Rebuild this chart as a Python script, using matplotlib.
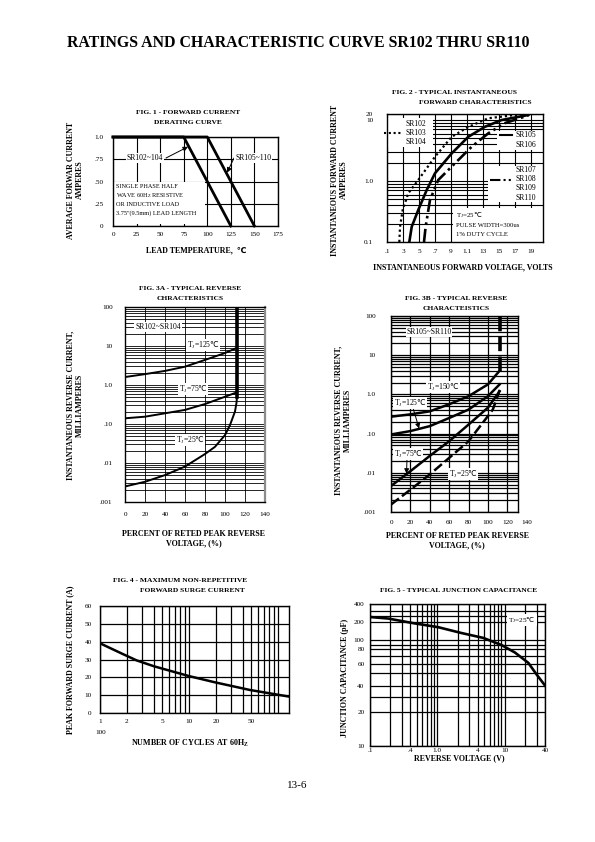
import numpy as np
import matplotlib
matplotlib.use('Agg')
import matplotlib.pyplot as plt
from matplotlib.patches import Rectangle
from matplotlib.ticker import NullFormatter

plt.rcParams['font.family'] = ['Liberation Serif', 'DejaVu Sans']
plt.rcParams['mathtext.fontset'] = 'custom'
plt.rcParams['mathtext.rm'] = 'Liberation Serif'
plt.rcParams['mathtext.it'] = 'Liberation Serif:italic'
plt.rcParams['mathtext.bf'] = 'Liberation Serif:bold'
plt.rcParams['mathtext.sf'] = 'DejaVu Sans'

W, H = 595, 842

# ---- Fig.1 forward current derating
lead_temp_ticks = [0, 25, 50, 75, 100, 125, 150, 175]
derate_temp_102 = [0, 75, 125]
derate_amp_102 = [1.0, 1.0, 0.0]
derate_temp_105 = [0, 100, 150]
derate_amp_105 = [1.0, 1.0, 0.0]

# ---- Fig.2 forward characteristics
vf_ticks = [0.1, 0.3, 0.5, 0.7, 0.9, 1.1, 1.3, 1.5, 1.7, 1.9]
vf_ticklabels = ['.1', '3', '5', '.7', '9', '1.1', '13', '15', '17', '19']
vf_102 = [0.254, 0.263, 0.296, 0.366, 0.491, 0.70, 0.909, 1.116, 1.366, 1.70, 1.89]
if_102 = [0.1, 0.178, 0.335, 0.63, 1.04, 2.5, 5.3, 7.7, 12.2, 17.8, 20]
vf_105 = [0.379, 0.409, 0.491, 0.596, 0.70, 0.909, 1.116, 1.325, 1.534, 1.866]
if_105 = [0.1, 0.178, 0.335, 0.71, 1.34, 2.84, 5.3, 7.75, 10, 17.8]
vf_107 = [0.5625, 0.583, 0.6375, 0.741, 0.95, 1.159, 1.366, 1.575, 1.866]
if_107 = [0.1, 0.178, 0.49, 1.04, 1.95, 3.65, 6.05, 8.9, 16.9]

# ---- Fig.3A reverse characteristics SR102~SR104
pct_a = [0, 20, 40, 60, 80, 100, 112]
ir_a_125 = [1.6, 1.9, 2.3, 2.95, 4.4, 6.6, 9.0]
ir_a_75 = [0.14, 0.154, 0.188, 0.23, 0.325, 0.5, 0.65]
pct_a_25 = [0, 20, 40, 60, 80, 90, 100, 105, 110, 111.5, 112]
ir_a_25 = [0.0025, 0.0033, 0.0049, 0.0081, 0.017, 0.026, 0.052, 0.094, 0.21, 0.35, 0.5]
brk_pct_a = [112, 112]
brk_ir_a = [0.5, 100]

# ---- Fig.3B reverse characteristics SR105~SR110
pct_b = [0, 20, 40, 60, 80, 100, 112]
ir_b_150 = [0.27, 0.31, 0.37, 0.56, 0.9, 1.8, 4.0]
ir_b_125 = [0.095, 0.116, 0.155, 0.25, 0.41, 0.9, 1.8]
ir_b_75 = [0.0046, 0.011, 0.027, 0.064, 0.17, 0.46, 1.2]
pct_b_25 = [0, 20, 40, 60, 80, 100, 105, 110, 112]
ir_b_25 = [0.00155, 0.0037, 0.0091, 0.024, 0.064, 0.28, 0.41, 0.9, 1.3]
brk_pct_b = [112, 112]
brk_ir_b = [4.0, 100]

# ---- Fig.4 surge current
cycles = [1, 1.78, 2.58, 4.04, 10, 19.6, 48.5, 133]
surge = [39.1, 33.2, 29.5, 26.2, 20.7, 17.2, 12.9, 9.2]

# ---- Fig.5 junction capacitance
vr = [0.1, 0.187, 0.44, 1.04, 2.3, 4.85, 9.08, 14.3, 22.6, 30, 40]
cj = [241, 227, 190, 163, 131, 109, 88.6, 74.9, 60.8, 49, 40]


fig = plt.figure(figsize=(W / 100, H / 100), dpi=100)


def rect(p):
    l, t, r, b = p
    return [l / W, 1 - b / H, (r - l) / W, (b - t) / H]


def put(x, y, s, size=5.8, weight='bold', ha='center', va='center', **kw):
    return fig.text(x / W, 1 - y / H, s, fontsize=size, fontweight=weight,
                    ha=ha, va=va, **kw)


def tag(x, y, s, size=5.5, ha='center'):
    """label with white background sitting on the grid"""
    return put(x, y, s, size=size, weight='normal', ha=ha,
               bbox=dict(fc='white', ec='none', pad=0.6))


def tj(temp):
    return 'T$_\\mathregular{J}$=' + temp + '$\\mathsf{\u2103}$'


def to_ax(p, x, y):
    l, t, r, b = p
    return (x - l) / (r - l), (b - y) / (b - t)


def white(ax, p, l, t, r, b):
    x0, y0 = to_ax(p, l, b)
    x1, y1 = to_ax(p, r, t)
    ax.add_patch(Rectangle((x0, y0), x1 - x0, y1 - y0, transform=ax.transAxes,
                           fc='white', ec='none', zorder=1.8, clip_on=False))


def style(ax, xpad, ypad, glw=0.8):
    ax.tick_params(which='both', length=0, labelsize=5.2)
    ax.tick_params(axis='x', pad=xpad)
    ax.tick_params(axis='y', pad=ypad)
    for sp in ax.spines.values():
        sp.set_linewidth(1.0)
    ax.grid(which='both', color='k', lw=glw)
    ax.yaxis.set_minor_formatter(NullFormatter())
    ax.xaxis.set_minor_formatter(NullFormatter())


def log_interp_scale(vals, fracs):
    lv = np.log10(vals)
    f = np.asarray(fracs, float)
    s0 = (f[1] - f[0]) / (lv[1] - lv[0])
    s1 = (f[-1] - f[-2]) / (lv[-1] - lv[-2])
    lv = np.concatenate([[lv[0] - 20], lv, [lv[-1] + 20]])
    f = np.concatenate([[f[0] - 20 * s0], f, [f[-1] + 20 * s1]])

    def fwd(v):
        v = np.log10(np.clip(np.asarray(v, float), 1e-12, None))
        return np.interp(v, lv, f)

    def inv(p):
        return 10 ** np.interp(np.asarray(p, float), f, lv)
    return fwd, inv


put(298, 43, 'RATINGS AND CHARACTERISTIC CURVE SR102 THRU SR110', size=11.4)
put(297, 786, '13-6', size=8, weight='normal')

# ================= FIG 1
P1 = (113, 137, 278, 226)
ax1 = fig.add_axes(rect(P1))
ax1.set_xlim(0, 175)
ax1.set_ylim(0, 1.0)
ax1.set_xticks(lead_temp_ticks)
ax1.set_xticklabels([str(t) for t in lead_temp_ticks])
ax1.set_yticks([0, 0.25, 0.5, 0.75, 1.0])
ax1.set_yticklabels(['0', '.25', '.50', '.75', '1.0'])
style(ax1, 4, 7)
ax1.plot(derate_temp_102, derate_amp_102, color='k', lw=2, zorder=3, clip_on=False)
ax1.plot(derate_temp_105, derate_amp_105, color='k', lw=2, zorder=3, clip_on=False)
white(ax1, P1, 114, 182, 205, 224)
for i, line in enumerate(['SINGLE PHASE HALF', 'WAVE 60H$_\\mathregular{Z}$ RESISTIVE',
                          'OR INDUCTIVE LOAD', '3.75"(9.5mm) LEAD LENGTH']):
    put(116, 187 + i * 8.8, line, size=4.5, weight='normal', ha='left')
tag(145, 158, 'SR102~104')
tag(253, 158, 'SR105~110')
arrow = dict(arrowstyle='-|>', color='k', lw=0.7, mutation_scale=7, shrinkA=0, shrinkB=0)
ax1.annotate('', xy=(79.5, 0.89), xytext=(166, H - 158), textcoords='figure pixels',
             arrowprops=arrow)
ax1.annotate('', xy=(121, 0.6), xytext=(234, H - 158), textcoords='figure pixels',
             arrowprops=arrow)
put(188, 112, 'FIG. 1 - FORWARD CURRENT', size=5.4)
put(188, 122, 'DERATING CURVE', size=5.4)
put(75, 180, 'AVERAGE FORWAR CURRENT\nAMPERES', rotation=90, linespacing=1.15)
put(196, 250, 'LEAD TEMPERATURE,  \u2103')

# ================= FIG 2
P2 = (387, 114, 543, 242)
ax2 = fig.add_axes(rect(P2))
f2, i2 = log_interp_scale([0.1, 1, 10, 20], [0, 61 / 128, 122 / 128, 1])
ax2.set_yscale('function', functions=(f2, i2))
ax2.set_xlim(0.1, 2.05)
ax2.set_ylim(0.1, 20)
ax2.set_xticks(vf_ticks)
ax2.set_xticklabels(vf_ticklabels)
ax2.set_yticks([0.1, 1, 10, 20])
ax2.set_yticklabels(['0.1', '1.0', '10', '20'])
ax2.set_yticks([0.2, 0.3, 0.4, 0.5, 0.6, 0.7, 0.8, 0.9, 2, 3, 4, 5, 6, 7, 8, 9], minor=True)
ax2.set_xticks([], minor=True)
style(ax2, 5, 10)
ax2.plot(vf_102, if_102, color='k', lw=1.6, ls=(0, (1, 1.3)), zorder=3)
ax2.plot(vf_105, if_105, color='k', lw=1.9, zorder=3)
ax2.plot(vf_107, if_107, color='k', lw=1.9, ls=(0, (5, 1.5, 1, 1.5, 1, 1.5)), zorder=3)
white(ax2, P2, 387.5, 118, 433, 147)
white(ax2, P2, 497, 131, 542.5, 150)
white(ax2, P2, 488, 166, 542.5, 202)
white(ax2, P2, 453, 208, 542.5, 241.5)
for xs, ys, ls in [((384, 402), 133, (0, (1, 1.3))), ((500, 512), 135, '-'),
                   ((490, 512), 180, (0, (5, 1.5, 1, 1.5, 1, 1.5)))]:
    a0 = to_ax(P2, xs[0], ys)
    a1 = to_ax(P2, xs[1], ys)
    ax2.plot([a0[0], a1[0]], [a0[1], a1[1]], transform=ax2.transAxes, color='k',
             lw=1.5, ls=ls, clip_on=False, zorder=3)
for k, s in enumerate(['SR102', 'SR103', 'SR104']):
    put(405, 124 + k * 9.2, s, size=5.5, weight='normal', ha='left')
for k, s in enumerate(['SR105', 'SR106']):
    put(515, 135 + k * 10, s, size=5.5, weight='normal', ha='left')
for k, s in enumerate(['SR107', 'SR108', 'SR109', 'SR110']):
    put(516, 170 + k * 9.2, s, size=5.5, weight='normal', ha='left')
put(456, 215, tj('25'), size=5, weight='normal', ha='left')
put(456, 225.5, 'PULSE WIDTH=300us', size=4.8, weight='normal', ha='left')
put(456, 235, '1% DUTY CYCLE', size=4.8, weight='normal', ha='left')
put(455, 92, 'FIG. 2 - TYPICAL INSTANTANEOUS', size=5.4)
put(475, 102, 'FORWARD CHARACTERISTICS', size=5.4)
put(339, 180, 'INSTANTANEOUS FORWARD CURRENT\nAMPERES', rotation=90, linespacing=1.15)
put(463, 267, 'INSTANTANEOUS FORWARD VOLTAGE, VOLTS')

# ================= FIG 3A
P3 = (125, 307, 265, 502)
ax3 = fig.add_axes(rect(P3))
ax3.set_yscale('log')
ax3.set_xlim(0, 140)
ax3.set_ylim(0.001, 100)
ax3.set_xticks(range(0, 141, 20))
ax3.set_yticks([0.001, 0.01, 0.1, 1, 10, 100])
ax3.set_yticklabels(['.001', '.01', '.10', '1.0', '10', '100'])
ax3.set_xticks([], minor=True)
style(ax3, 7, 9, glw=0.6)
ax3.spines['right'].set_color('0.55')
ax3.spines['right'].set_linewidth(1.6)
ax3.plot(pct_a, ir_a_125, color='k', lw=1.4, zorder=3)
ax3.plot(pct_a, ir_a_75, color='k', lw=1.4, zorder=3)
ax3.plot(pct_a_25, ir_a_25, color='k', lw=1.4, zorder=3)
ax3.plot(brk_pct_a, brk_ir_a, color='k', lw=2.6, zorder=3)
tag(158, 327, 'SR102~SR104')
tag(203, 345, tj('125'))
tag(193, 389, tj('75'))
tag(190, 440, tj('25'))
put(190, 288, 'FIG. 3A - TYPICAL REVERSE', size=5.4)
put(190, 298, 'CHRACTERISTICS', size=5.4)
put(75, 405, 'INSTANTANEOUS REVERSE CURRENT,\nMILLIAMPERES', rotation=90, linespacing=1.15)
put(194, 539, 'PERCENT OF RETED PEAK REVERSE\nVOLTAGE, (%)', linespacing=1.2)

# ================= FIG 3B
P4 = (391, 316, 518, 512)
ax4 = fig.add_axes(rect(P4))
ax4.set_yscale('log')
ax4.set_xlim(0, 131)
ax4.set_ylim(0.001, 100)
ax4.set_xticks(range(0, 121, 20))
ax4.set_yticks([0.001, 0.01, 0.1, 1, 10, 100])
ax4.set_yticklabels(['.001', '.01', '.10', '1.0', '10', '100'])
ax4.set_xticks([], minor=True)
style(ax4, 5.5, 11, glw=0.9)
ax4.plot(pct_b, ir_b_150, color='k', lw=1.8, zorder=3)
ax4.plot(pct_b, ir_b_125, color='k', lw=1.8, zorder=3)
ax4.plot(pct_b, ir_b_75, color='k', lw=1.8, zorder=3)
ax4.plot(pct_b_25, ir_b_25, color='k', lw=1.8, ls=(0, (4, 1.5)), zorder=3)
ax4.plot(brk_pct_b, brk_ir_b, color='k', lw=2.6, ls=(0, (4, 1.5)), zorder=3)
put(527, 522, '140', size=5.2, weight='normal')
tag(429, 332, 'SR105~SR110')
tag(443, 387, tj('150'))
tag(410, 403, tj('125'))
tag(408, 454, tj('75'))
tag(463, 474, tj('25'))
ax4.annotate('', xy=(29, 0.135), xytext=(413, H - 408), textcoords='figure pixels',
             arrowprops=arrow)
ax4.annotate('', xy=(16, 0.0095), xytext=(407, H - 458.5), textcoords='figure pixels',
             arrowprops=arrow)
put(456, 298, 'FIG. 3B - TYPICAL REVERSE', size=5.4)
put(456, 308, 'CHARACTEISTICS', size=5.4)
put(343, 420, 'INSTANTANEOUS REVERSE CURRENT,\nMILLIAMPERES', rotation=90, linespacing=1.15)
put(457, 541, 'PERCENT OF RETED PEAK REVERSE\nVOLTAGE, (%)', linespacing=1.2)

# ================= FIG 4
P5 = (100, 606, 289, 713)
ax5 = fig.add_axes(rect(P5))
ax5.set_xscale('log')
ax5.set_xlim(1, 133)
ax5.set_ylim(0, 60)
ax5.set_xticks([1, 2, 5, 10, 20, 50])
ax5.set_xticklabels(['1', '2', '5', '10', '20', '50'])
ax5.set_xticks([3, 4, 6, 7, 8, 9, 30, 40, 60, 70, 80, 90, 100], minor=True)
ax5.set_yticks(range(0, 61, 10))
style(ax5, 4.5, 6, glw=0.9)
ax5.plot(cycles, surge, color='k', lw=1.8, zorder=3)
put(101, 732, '100', size=5.2, weight='normal')
put(180, 580, 'FIG. 4 - MAXIMUM NON-REPETITIVE', size=5.4)
put(192, 590, 'FORWARD SURGE CURRENT', size=5.4)
put(70, 660, 'PEAK FORWARD SURGE CURRENT (A)', rotation=90)
put(190, 743, 'NUMBER OF CYCLES AT 60H$_\\mathregular{Z}$')

# ================= FIG 5
P6 = (370, 604, 545, 746)
ax6 = fig.add_axes(rect(P6))
ax6.set_xscale('log')
f6, i6 = log_interp_scale([10, 20, 40, 60, 80, 100, 200, 400],
                          [0, 0.2392, 0.4260, 0.5809, 0.6811, 0.7449, 0.8747, 1.0])
ax6.set_yscale('function', functions=(f6, i6))
ax6.set_xlim(0.1, 40)
ax6.set_ylim(10, 400)
ax6.set_xticks([0.1, 0.4, 1, 4, 10, 40])
ax6.set_xticklabels(['.1', '.4', '1.0', '4', '10', '40'])
ax6.set_xticks([0.2, 0.3, 0.5, 0.6, 0.7, 0.8, 0.9, 2, 3, 5, 6, 7, 8, 9, 20, 30], minor=True)
ax6.set_yticks([10, 20, 40, 60, 80, 100, 200, 400])
ax6.set_yticklabels(['10', '20', '40', '60', '80', '100', '200', '400'])
ax6.set_yticks([30, 50, 70, 90, 250, 300], minor=True)
style(ax6, 1.5, 4, glw=0.9)
ax6.plot(vr, cj, color='k', lw=1.9, zorder=3)
tag(522, 620, tj('25'), size=5.2)
put(459, 590, 'FIG. 5 - TYPICAL JUNCTION CAPACITANCE', size=5.4)
put(345, 678, 'JUNCTION CAPACITANCE (pF)', rotation=90)
put(459, 758, 'REVERSE VOLTAGE (V)')

fig.savefig('out.png', dpi=100)
